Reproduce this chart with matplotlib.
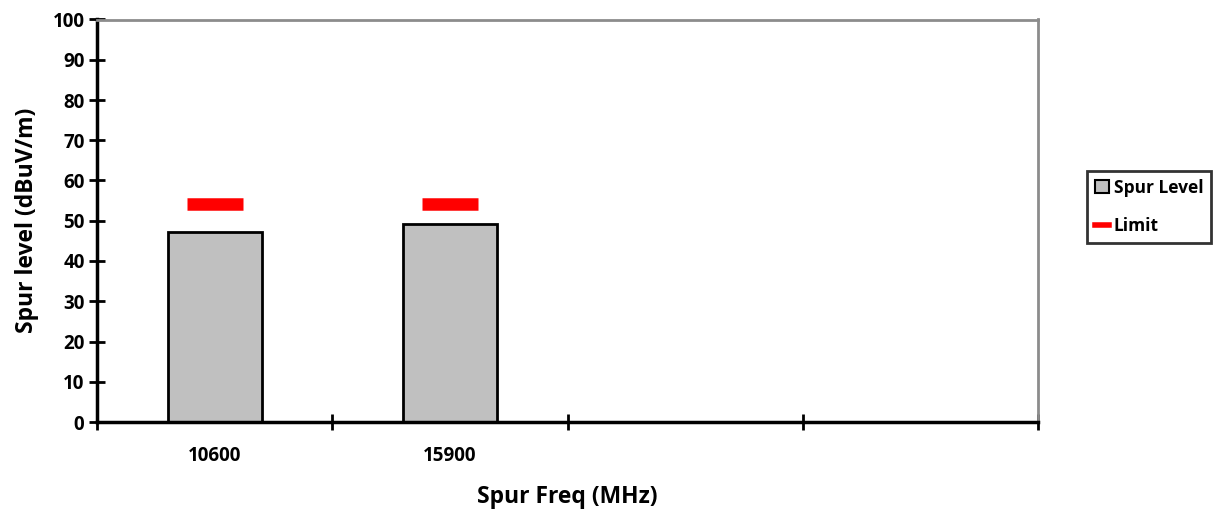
import matplotlib.pyplot as plt
import numpy as np
from matplotlib.patches import Patch
from matplotlib.lines import Line2D

plt.rcParams['font.family'] = ['Open Sans', 'DejaVu Sans']
plt.rcParams['font.weight'] = 'bold'

# Data
categories = ['10600', '15900', '', '']
spur_level = [47.1, 49.3]
limit = [54.1, 54.1]

fig = plt.figure(figsize=(12.21, 5.13), dpi=100)
ax = fig.add_axes([97 / 1221, 1 - 422 / 513, (1038 - 97) / 1221, (422 - 19.5) / 513])

x = np.arange(len(spur_level))
ax.bar(x, spur_level, width=0.4, color='#c0c0c0', edgecolor='black', linewidth=2, zorder=2)
ax.plot(x, limit, linestyle='none', marker='_', markersize=40, markeredgewidth=9,
        color='#ff0000', zorder=3)

ax.set_xlim(-0.5, len(categories) - 0.5)
ax.set_ylim(0, 100)
ax.set_yticks(np.arange(0, 101, 10))
ax.set_xticks(np.arange(len(categories) + 1) - 0.5)
ax.set_xticklabels([])
ax.set_xticks(np.arange(len(categories)), minor=True)
ax.set_xticklabels(categories, minor=True)
ax.tick_params(axis='x', which='minor', length=0, pad=17, labelsize=13.5)
ax.tick_params(axis='x', which='major', direction='inout', length=12, width=2)
ax.tick_params(axis='y', direction='inout', length=12, width=2, labelsize=13.5, pad=3)

for s in ['left', 'bottom']:
    ax.spines[s].set_linewidth(2.5)
    ax.spines[s].set_color('black')
for s in ['top', 'right']:
    ax.spines[s].set_linewidth(2)
    ax.spines[s].set_color('#8c8c8c')

ax.set_xlabel('Spur Freq (MHz)', fontsize=16.5, fontweight='bold', labelpad=14)
ax.set_ylabel('Spur level (dBuV/m)', fontsize=16.5, fontweight='bold', labelpad=10)

handles = [Patch(facecolor='#c0c0c0', edgecolor='black', linewidth=1.5),
           Line2D([0], [0], color='#ff0000', linewidth=4)]
leg = fig.legend(handles, ['Spur Level', 'Limit'], loc='center left',
                 bbox_to_anchor=(1087 / 1221, 1 - 207 / 513), fontsize=12.5,
                 frameon=True, fancybox=False, edgecolor='black',
                 handlelength=0.8, handleheight=0.8, handletextpad=0.3,
                 borderpad=0.45, labelspacing=1.2, borderaxespad=0)
leg.get_frame().set_linewidth(2)

fig.savefig('out.png', dpi=100)
